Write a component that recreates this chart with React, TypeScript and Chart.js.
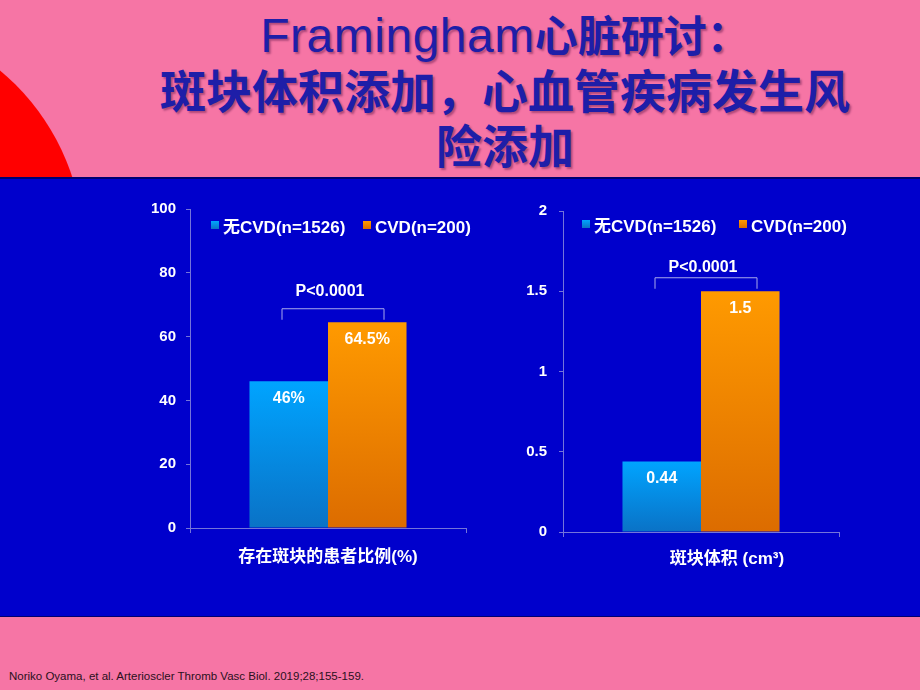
import React, { useEffect, useRef } from "react";
import { Chart, registerables } from "chart.js";

Chart.register(...registerables);

// ---------- data ----------
const SERIES_LABELS = ["无CVD(n=1526)", "CVD(n=200)"];
const P_VALUE_TEXT = "P<0.0001";

const PREVALENCE_CATEGORY = ["存在斑块的患者比例(%)"];
const PREVALENCE_NO_CVD = [46];
const PREVALENCE_CVD = [64.5];
const PREVALENCE_TICKS = [0, 20, 40, 60, 80, 100];

const VOLUME_CATEGORY = ["斑块体积 (cm³)"];
const VOLUME_NO_CVD = [0.44];
const VOLUME_CVD = [1.5];
const VOLUME_TICKS = [0, 0.5, 1, 1.5, 2];

const TITLE_LATIN = "Framingham";
const TITLE_LINE1_REST = "心脏研讨：";
const TITLE_LINES_REST = ["斑块体积添加，心血管疾病发生风", "险添加"];
const CITATION = "Noriko Oyama, et al. Arterioscler Thromb Vasc Biol. 2019;28;155-159.";

// ---------- styles ----------
const PINK = "#F675A5";
const PANEL = "#0000CC";
const AXIS = "#7474DA";
const BLUE_TOP = "#00A4FF";
const BLUE_BOTTOM = "#0A72C6";
const ORANGE_TOP = "#FF9A00";
const ORANGE_BOTTOM = "#DC6C00";
const FONT = "Arial, 'Liberation Sans', 'Noto Sans CJK SC', sans-serif";

function barGradient(top: string, bottom: string) {
  return (c: any) => {
    const chart = c.chart;
    const area = chart.chartArea;
    if (!area || c.parsed == null) return top;
    const yScale = chart.scales.y;
    const y0 = yScale.getPixelForValue(c.parsed.y);
    const y1 = yScale.getPixelForValue(0);
    const g = chart.ctx.createLinearGradient(0, y0, 0, y1);
    g.addColorStop(0, top);
    g.addColorStop(1, bottom);
    return g;
  };
}

const annotPlugin = {
  id: "annot",
  afterDatasetsDraw(chart: any, _args: any, opts: any) {
    const ctx = chart.ctx;
    const area = chart.chartArea;
    const m0 = chart.getDatasetMeta(0).data[0];
    const m1 = chart.getDatasetMeta(1).data[0];
    ctx.save();
    // value labels inside bars
    ctx.fillStyle = "#FFFFFF";
    ctx.font = `bold 16px ${FONT}`;
    ctx.textAlign = "center";
    ctx.textBaseline = "middle";
    [m0, m1].forEach((el: any, i: number) => {
      const v = chart.data.datasets[i].data[0];
      ctx.fillText(opts.fmt(v), el.x, el.y + 17);
    });
    // significance bracket
    const gc = (m0.x + m1.x) / 2;
    const bx = gc + 5;
    const topY = Math.min(m0.y, m1.y) - 14;
    ctx.strokeStyle = "#A9A9EC";
    ctx.lineWidth = 1;
    ctx.beginPath();
    ctx.moveTo(bx - 51, topY + 11.5);
    ctx.lineTo(bx - 51, topY + 0.5);
    ctx.lineTo(bx + 51, topY + 0.5);
    ctx.lineTo(bx + 51, topY + 11.5);
    ctx.stroke();
    ctx.font = `bold 16px ${FONT}`;
    ctx.fillText(P_VALUE_TEXT, gc + 2, topY - opts.pGap);
    // legend
    const cols = [
      [BLUE_TOP, BLUE_BOTTOM],
      [ORANGE_TOP, ORANGE_BOTTOM],
    ];
    ctx.font = `bold 17px ${FONT}`;
    ctx.textAlign = "left";
    chart.data.datasets.forEach((ds: any, i: number) => {
      const sx = area.left + opts.legendX[i];
      const sy = area.top + opts.legendY - 4;
      const g = ctx.createLinearGradient(0, sy, 0, sy + 8);
      g.addColorStop(0, cols[i][0]);
      g.addColorStop(1, cols[i][1]);
      ctx.fillStyle = g;
      ctx.fillRect(sx, sy, 8, 8);
      ctx.fillStyle = "#FFFFFF";
      ctx.fillText(ds.label, sx + 12, area.top + opts.legendY + 3);
    });
    ctx.restore();
  },
};

type ChartProps = {
  left: number;
  top: number;
  width: number;
  height: number;
  categories: string[];
  noCvd: number[];
  cvd: number[];
  ticks: number[];
  yWidth: number;
  xHeight: number;
  pad: { top: number; right: number };
  yTickPad: number;
  xTickPad: number;
  xLabelOffset: number;
  fmt: (v: number) => string;
  pGap: number;
  legendX: number[];
  legendY: number;
};

function BarChart(p: ChartProps) {
  const ref = useRef<HTMLCanvasElement | null>(null);
  useEffect(() => {
    if (!ref.current) return;
    const chart = new Chart(ref.current, {
      type: "bar",
      data: {
        labels: p.categories,
        datasets: [
          {
            label: SERIES_LABELS[0],
            data: p.noCvd,
            backgroundColor: barGradient(BLUE_TOP, BLUE_BOTTOM),
            borderWidth: 0,
          },
          {
            label: SERIES_LABELS[1],
            data: p.cvd,
            backgroundColor: barGradient(ORANGE_TOP, ORANGE_BOTTOM),
            borderWidth: 0,
          },
        ],
      },
      options: {
        responsive: false,
        animation: false,
        devicePixelRatio: 1,
        layout: { padding: { top: p.pad.top, right: p.pad.right, left: 0, bottom: 0 } },
        datasets: { bar: { categoryPercentage: 0.569, barPercentage: 1 } },
        plugins: {
          legend: { display: false },
          tooltip: { enabled: false },
          annot: { fmt: p.fmt, pGap: p.pGap, legendX: p.legendX, legendY: p.legendY },
        } as any,
        scales: {
          x: {
            grid: {
              display: true,
              drawOnChartArea: false,
              drawTicks: true,
              tickLength: 5,
              color: AXIS,
              offset: true,
            },
            border: { display: true, color: AXIS, width: 1 },
            ticks: {
              color: "#FFFFFF",
              font: { family: FONT, size: 17, weight: "bold" },
              padding: p.xTickPad,
              labelOffset: p.xLabelOffset,
              maxRotation: 0,
            },
            afterFit: (s: any) => {
              s.height = p.xHeight;
            },
          },
          y: {
            min: p.ticks[0],
            max: p.ticks[p.ticks.length - 1],
            afterBuildTicks: (s: any) => {
              s.ticks = p.ticks.map((v) => ({ value: v }));
            },
            grid: {
              display: true,
              drawOnChartArea: false,
              drawTicks: true,
              tickLength: 4,
              color: AXIS,
            },
            border: { display: true, color: AXIS, width: 1 },
            ticks: {
              color: "#FFFFFF",
              font: { family: FONT, size: 15, weight: "bold" },
              padding: p.yTickPad,
              callback: (v: any) => String(v),
            },
            afterFit: (s: any) => {
              s.width = p.yWidth;
            },
          },
        },
      },
      plugins: [annotPlugin as any],
    });
    return () => chart.destroy();
  }, []);
  return (
    <canvas
      ref={ref}
      width={p.width}
      height={p.height}
      style={{ position: "absolute", left: p.left, top: p.top, width: p.width, height: p.height }}
    />
  );
}

export default function App() {
  useEffect(() => {
    document.body.style.margin = "0";
  }, []);
  return (
    <div
      style={{
        position: "fixed",
        left: 0,
        top: 0,
        width: 920,
        height: 690,
        overflow: "hidden",
        background: PINK,
        fontFamily: FONT,
      }}
    >
      <div
        style={{
          position: "absolute",
          left: -384,
          top: 16,
          width: 468,
          height: 468,
          borderRadius: "50%",
          background: "#FF0000",
        }}
      />
      <div
        style={{
          position: "absolute",
          left: 90,
          top: 8,
          width: 830,
          textAlign: "center",
          color: "#1E1EA8",
          fontSize: 46,
          lineHeight: "55px",
          fontWeight: 700,
          fontFamily: "'Liberation Sans', 'Noto Sans CJK SC', sans-serif",
          textShadow: "2px 2px 2px rgba(90,20,70,0.45)",
          whiteSpace: "nowrap",
        }}
      >
        <div style={{ fontSize: 43 }}>
          <span style={{ fontWeight: 400, fontSize: 48, letterSpacing: 0.5 }}>{TITLE_LATIN}</span>
          {TITLE_LINE1_REST}
        </div>
        {TITLE_LINES_REST.map((t, i) => (
          <div key={i}>{t}</div>
        ))}
      </div>
      <div
        style={{
          position: "absolute",
          left: 0,
          top: 177,
          width: 920,
          height: 440,
          background: PANEL,
          borderTop: "2px solid #000070",
          borderBottom: "1px solid #000070",
          boxSizing: "border-box",
        }}
      />
      <BarChart
        left={130}
        top={190}
        width={350}
        height={400}
        categories={PREVALENCE_CATEGORY}
        noCvd={PREVALENCE_NO_CVD}
        cvd={PREVALENCE_CVD}
        ticks={PREVALENCE_TICKS}
        yWidth={60}
        xHeight={62}
        pad={{ top: 17, right: 14 }}
        yTickPad={10}
        xTickPad={14}
        xLabelOffset={0}
        fmt={(v) => `${v}%`}
        pGap={17}
        legendX={[21, 173]}
        legendY={16}
      />
      <BarChart
        left={500}
        top={190}
        width={380}
        height={400}
        categories={VOLUME_CATEGORY}
        noCvd={VOLUME_NO_CVD}
        cvd={VOLUME_CVD}
        ticks={VOLUME_TICKS}
        yWidth={63}
        xHeight={58}
        pad={{ top: 16, right: 41 }}
        yTickPad={12}
        xTickPad={12}
        xLabelOffset={26}
        fmt={(v) => String(v)}
        pGap={10}
        legendX={[19, 176]}
        legendY={13}
      />
      <div
        style={{
          position: "absolute",
          left: 9,
          top: 670,
          fontSize: 11.5,
          color: "#2A1020",
          fontFamily: "Arial, 'Liberation Sans', sans-serif",
          whiteSpace: "nowrap",
        }}
      >
        {CITATION}
      </div>
    </div>
  );
}
